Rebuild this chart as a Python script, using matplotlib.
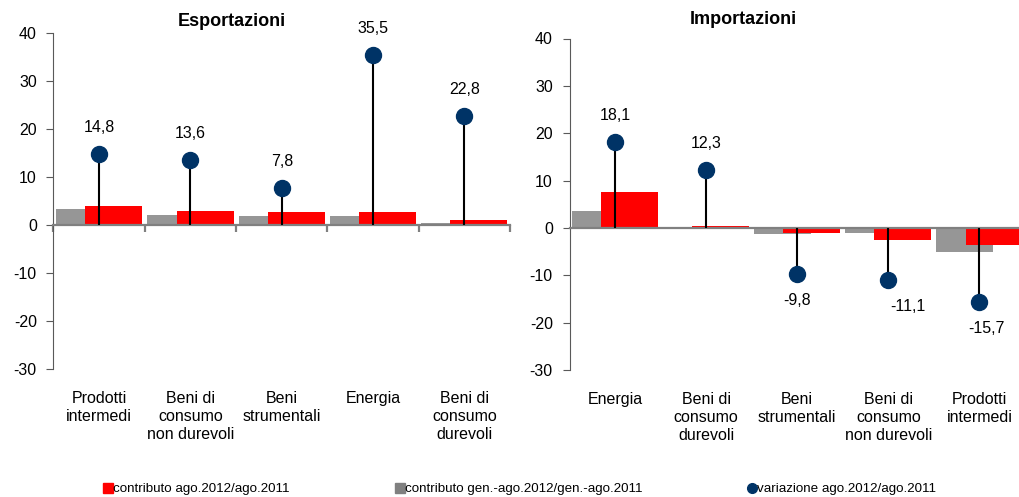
import numpy as np
import matplotlib
matplotlib.use('Agg')
import matplotlib.pyplot as plt
from matplotlib.lines import Line2D
import matplotlib.transforms as mtransforms

plt.rcParams['font.family'] = ['Liberation Sans Narrow', 'DejaVu Sans Condensed', 'Liberation Sans', 'DejaVu Sans']
plt.rcParams['axes.unicode_minus'] = False

# Esportazioni
exp_cat = ['Prodotti\nintermedi', 'Beni di\nconsumo\nnon durevoli', 'Beni\nstrumentali',
           'Energia', 'Beni di\nconsumo\ndurevoli']
exp_contr = [4.0, 3.0, 2.7, 2.7, 1.1]        # contributo ago.2012/ago.2011
exp_contr_gen = [3.4, 2.2, 1.9, 1.9, 0.5]    # contributo gen.-ago.2012/gen.-ago.2011
exp_var = [14.8, 13.6, 7.8, 35.5, 22.8]      # variazione ago.2012/ago.2011

# Importazioni
imp_cat = ['Energia', 'Beni di\nconsumo\ndurevoli', 'Beni\nstrumentali',
           'Beni di\nconsumo\nnon durevoli', 'Prodotti\nintermedi']
imp_contr = [7.6, 0.4, -1.0, -2.5, -3.7]
imp_contr_gen = [3.6, 0.0, -1.2, -1.0, -5.0]
imp_var = [18.1, 12.3, -9.8, -11.1, -15.7]

RED = '#ff0000'
GRAY = '#969696'
NAVY = '#003366'

fig = plt.figure(figsize=(10.2, 4.97), dpi=100)
W, H = 1020, 497


def panel(rect, cats, contr, contr_gen, var, boundary_ticks, lab_dx):
    ax = fig.add_axes(rect)
    x = np.arange(len(cats))
    ax.bar(x - 0.16, contr_gen, width=0.625, color=GRAY, zorder=1)
    ax.bar(x + 0.16, contr, width=0.625, color=RED, zorder=2)
    ax.vlines(x, 0, var, color='black', lw=1.5, zorder=3)
    ax.plot(x, var, 'o', color=NAVY, ms=11.5, zorder=4, ls='none')
    for xi, v, dx in zip(x, var, lab_dx):
        off = 19 if v > 0 else -19
        ax.annotate(f'{v:.1f}'.replace('.', ','), (xi, v), xytext=(dx, off),
                    textcoords='offset points', ha='center', va='center', fontsize=11.5)
    ax.set_xlim(-0.5, len(cats) - 0.5)
    ax.set_ylim(-30, 40)
    ax.set_yticks(np.arange(-30, 41, 10))
    ax.tick_params(axis='y', labelsize=11.5, length=5, color='#595959', pad=7)
    for s in ['top', 'right']:
        ax.spines[s].set_visible(False)
    ax.spines['left'].set_color('#595959')
    ax.spines['bottom'].set_position(('data', 0))
    ax.spines['bottom'].set_color('#808080')
    ax.spines['bottom'].set_linewidth(1.6)
    if boundary_ticks:
        ax.set_xticks(np.arange(-0.5, len(cats), 1.0))
        ax.tick_params(axis='x', length=5, width=1.6, color='#808080', labelbottom=False)
    else:
        ax.set_xticks([])
    trans = mtransforms.blended_transform_factory(ax.transData, ax.transAxes)
    for xi, c in zip(x, cats):
        ax.text(xi, -0.065, c, transform=trans, ha='center', va='top', fontsize=11.5,
                linespacing=1.25)
    return ax


ax1 = panel([53.5 / W, 1 - 369 / H, 456.5 / W, 335.5 / H], exp_cat, exp_contr,
            exp_contr_gen, exp_var, True, [0, 0, 0, 0, 0])
ax2 = panel([569.5 / W, 1 - 370 / H, 455.5 / W, 331.5 / H], imp_cat, imp_contr,
            imp_contr_gen, imp_var, False, [0, 0, 0, 14, 5])

fig.text(232 / W, 1 - 22 / H, 'Esportazioni', ha='center', va='center',
         fontsize=13, fontweight='bold')
fig.text(743 / W, 1 - 20 / H, 'Importazioni', ha='center', va='center',
         fontsize=13, fontweight='bold')

entries = [
    (104, Line2D([], [], marker='s', color=RED, ls='none', ms=7), 'contributo ago.2012/ago.2011'),
    (396, Line2D([], [], marker='s', color='#808080', ls='none', ms=7), 'contributo gen.-ago.2012/gen.-ago.2011'),
    (748, Line2D([], [], marker='o', color=NAVY, ls='none', ms=7), 'variazione ago.2012/ago.2011'),
]
for px, h, lab in entries:
    fig.legend([h], [lab], loc='center left', bbox_to_anchor=(px / W, 1 - 489 / H),
               frameon=False, fontsize=9.6, handlelength=0.6, handletextpad=0.1,
               borderpad=0, borderaxespad=0)

fig.savefig('out.png', dpi=100)
